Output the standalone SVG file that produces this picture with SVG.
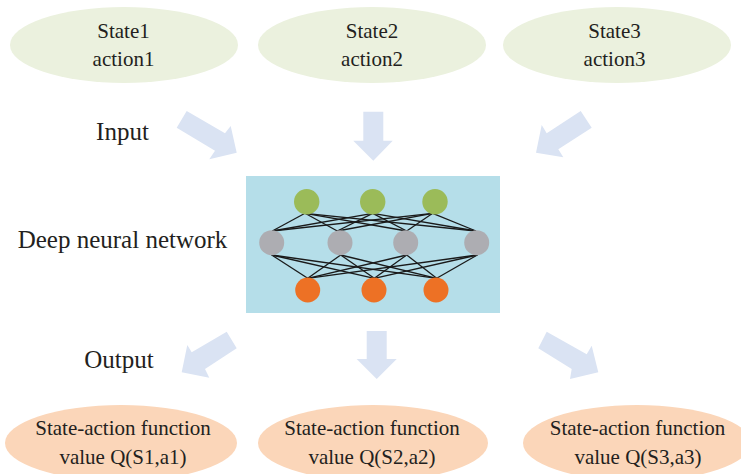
<svg xmlns="http://www.w3.org/2000/svg" width="741" height="474" viewBox="0 0 741 474" font-family="'Liberation Serif', Tinos, 'Times New Roman', Times, 'DejaVu Serif', serif">
<style>
text{font-family:'Liberation Serif',Tinos,'Times New Roman',Times,'DejaVu Serif',serif;fill:#231f20;text-anchor:middle}
.t{font-size:21px}
.lbl{font-size:25px}
.in{fill:#ebf1de}
.out{fill:#fbd6b9}
.arr{fill:#dae3f3}
.g{fill:#9bbb59}
.h{fill:#adadb2}
.o{fill:#ed7125}
.ln line{stroke:#1a1a1a;stroke-width:1.3}
</style>
<rect width="741" height="474" fill="#fff"/>
<g id="in1"><ellipse class="in" cx="124" cy="45" rx="114" ry="38"/><text class="t" x="123.5" y="38">State1</text><text class="t" x="123.5" y="66">action1</text></g>
<g id="in2"><ellipse class="in" cx="372" cy="45" rx="114" ry="38"/><text class="t" x="372" y="38">State2</text><text class="t" x="372" y="66">action2</text></g>
<g id="in3"><ellipse class="in" cx="617" cy="45" rx="114" ry="38"/><text class="t" x="614.5" y="38">State3</text><text class="t" x="614.5" y="66">action3</text></g>
<g id="labels">
<text class="lbl" x="122.5" y="140">Input</text>
<text class="lbl" x="122.5" y="248">Deep neural network</text>
<text class="lbl" x="119" y="368">Output</text>
</g>
<g id="arrows">
<polygon class="arr" points="186.7,111 225,133.3 230.7,126 236.7,152.7 209.3,159.3 215,150.7 176.7,127.7"/>
<polygon class="arr" points="363.3,111.7 383.3,111.7 383.3,140.7 392.7,140.7 373.3,160.7 353.3,140.7 363.3,140.7"/>
<polygon class="arr" points="580.7,111 591.7,127.7 558.3,149.3 563.3,157.3 536,152.7 541.7,125 546.7,133.3"/>
<polygon class="arr" points="226.7,331.7 236.7,348.3 205,369 209.3,377.7 181.7,372.3 187.3,345 191.7,352.3"/>
<polygon class="arr" points="366.7,331 386.7,331 386.7,359 396.7,359 376.7,379 356.7,359 366.7,359"/>
<polygon class="arr" points="546.7,331.7 538.3,348.3 571.7,369 570,379 598.3,372.3 591.7,345.7 586.7,354.3"/>
</g>
<g id="network">
<rect x="246" y="176" width="254" height="137" fill="#b5dee9"/>
<g class="ln">
<line x1="305" y1="213.3" x2="272.3" y2="231"/><line x1="305" y1="213.3" x2="337.3" y2="231"/><line x1="305" y1="213.3" x2="406.7" y2="231"/><line x1="305" y1="213.3" x2="476" y2="231"/>
<line x1="372.7" y1="213.3" x2="272.3" y2="231"/><line x1="372.7" y1="213.3" x2="337.3" y2="231"/><line x1="372.7" y1="213.3" x2="406.7" y2="231"/><line x1="372.7" y1="213.3" x2="476" y2="231"/>
<line x1="432.7" y1="213.3" x2="272.3" y2="231"/><line x1="432.7" y1="213.3" x2="337.3" y2="231"/><line x1="432.7" y1="213.3" x2="406.7" y2="231"/><line x1="432.7" y1="213.3" x2="476" y2="231"/>
<line x1="271.7" y1="255" x2="307.7" y2="278.3"/><line x1="271.7" y1="255" x2="374.3" y2="278.3"/><line x1="271.7" y1="255" x2="436.7" y2="278.3"/>
<line x1="340.7" y1="255" x2="307.7" y2="278.3"/><line x1="340.7" y1="255" x2="374.3" y2="278.3"/><line x1="340.7" y1="255" x2="436.7" y2="278.3"/>
<line x1="406.7" y1="255" x2="307.7" y2="278.3"/><line x1="406.7" y1="255" x2="374.3" y2="278.3"/><line x1="406.7" y1="255" x2="436.7" y2="278.3"/>
<line x1="477.3" y1="255" x2="307.7" y2="278.3"/><line x1="477.3" y1="255" x2="374.3" y2="278.3"/><line x1="477.3" y1="255" x2="436.7" y2="278.3"/>
</g>
<circle class="g" cx="306.7" cy="201.7" r="12.7"/><circle class="g" cx="372.7" cy="201.7" r="12.7"/><circle class="g" cx="435" cy="201.7" r="12.7"/>
<circle class="h" cx="271.7" cy="242.7" r="12.5"/><circle class="h" cx="340" cy="242.7" r="12.5"/><circle class="h" cx="405.7" cy="242.7" r="12.5"/><circle class="h" cx="476.7" cy="242.7" r="12.5"/>
<circle class="o" cx="307.7" cy="290" r="12.5"/><circle class="o" cx="374" cy="290" r="12.5"/><circle class="o" cx="436" cy="290" r="12.5"/>
</g>
<g id="out1"><ellipse class="out" cx="121" cy="443" rx="116" ry="38"/><text class="t" x="123" y="435">State-action function</text><text class="t" x="123" y="464">value Q(S1,a1)</text></g>
<g id="out2"><ellipse class="out" cx="373" cy="443" rx="115" ry="38"/><text class="t" x="372" y="435">State-action function</text><text class="t" x="372" y="464">value Q(S2,a2)</text></g>
<g id="out3"><ellipse class="out" cx="637" cy="443" rx="114" ry="38"/><text class="t" x="637.5" y="435">State-action function</text><text class="t" x="638" y="464">value Q(S3,a3)</text></g>
</svg>
